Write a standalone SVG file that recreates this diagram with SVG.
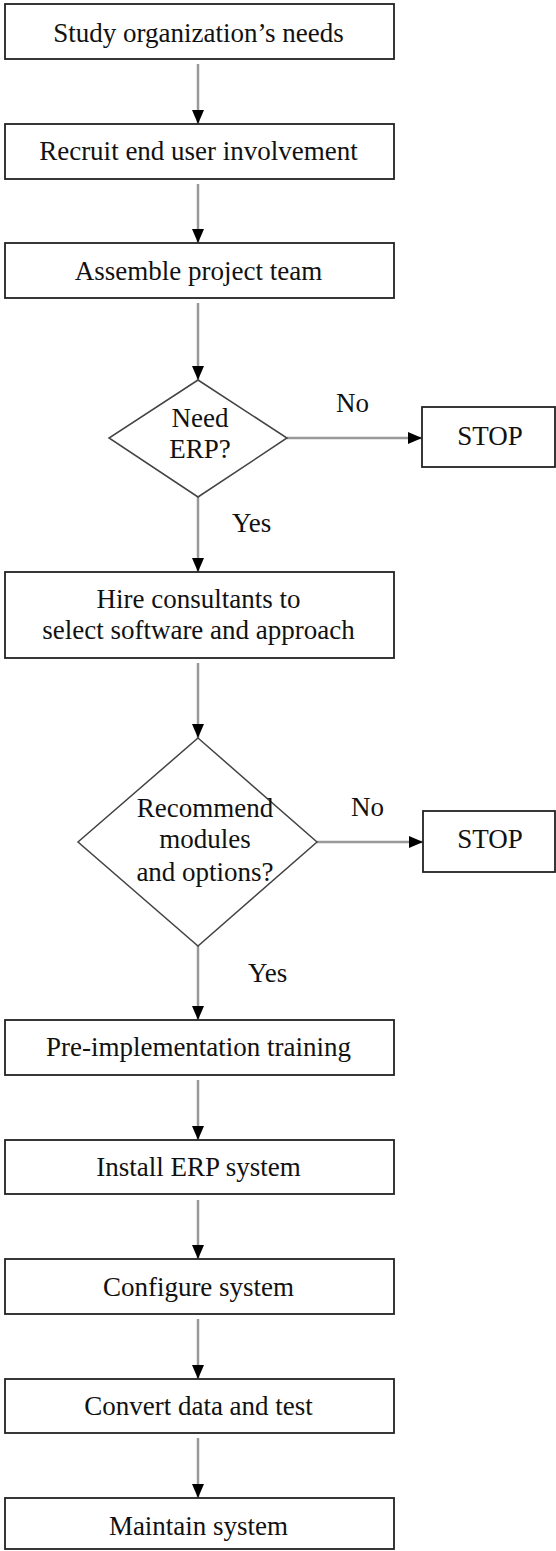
<svg xmlns="http://www.w3.org/2000/svg" width="556" height="1551" viewBox="0 0 556 1551">
<style>
  .box { fill: #fff; stroke: #222; stroke-width: 1.8; }
  .dia { fill: #fff; stroke: #444; stroke-width: 1.5; }
  text { font-family: 'Liberation Serif', 'DejaVu Serif', serif; font-size: 27px; fill: #111; }
  .t { text-anchor: middle; }
  .conn { stroke: #999; stroke-width: 2.5; fill: none; marker-end: url(#ah); }
</style>
<defs>
  <marker id="ah" viewBox="0 0 14 12" refX="14" refY="6" markerWidth="14" markerHeight="12" markerUnits="userSpaceOnUse" orient="auto">
    <path d="M0,0 L14,6 L0,12 z" fill="#000"/>
  </marker>
</defs>
<rect width="556" height="1551" fill="#fff"/>

<g id="connectors">
  <line class="conn" x1="198" y1="64" x2="198" y2="124"/>
  <line class="conn" x1="198" y1="184" x2="198" y2="243"/>
  <line class="conn" x1="198" y1="303" x2="198" y2="380"/>
  <line class="conn" x1="287" y1="438" x2="422" y2="438"/>
  <line class="conn" x1="198" y1="497" x2="198" y2="572"/>
  <line class="conn" x1="198" y1="663" x2="198" y2="738"/>
  <line class="conn" x1="317" y1="842" x2="423" y2="842"/>
  <line class="conn" x1="198" y1="946" x2="198" y2="1020"/>
  <line class="conn" x1="198" y1="1080" x2="198" y2="1140"/>
  <line class="conn" x1="198" y1="1200" x2="198" y2="1259"/>
  <line class="conn" x1="198" y1="1319" x2="198" y2="1379"/>
  <line class="conn" x1="198" y1="1438" x2="198" y2="1498"/>
  <text font-family="Liberation Serif, serif" x="336" y="412">No</text>
  <text font-family="Liberation Serif, serif" x="232" y="532">Yes</text>
  <text font-family="Liberation Serif, serif" x="351" y="816">No</text>
  <text font-family="Liberation Serif, serif" x="248" y="982">Yes</text>
</g>

<g id="n1">
  <rect class="box" x="5" y="4" width="389" height="55"/>
  <text class="t" font-family="Liberation Serif, serif" x="198.5" y="42">Study organization’s needs</text>
</g>
<g id="n2">
  <rect class="box" x="5" y="124" width="389" height="55"/>
  <text class="t" font-family="Liberation Serif, serif" x="198.5" y="160">Recruit end user involvement</text>
</g>
<g id="n3">
  <rect class="box" x="5" y="243" width="389" height="55"/>
  <text class="t" font-family="Liberation Serif, serif" x="198.5" y="280">Assemble project team</text>
</g>
<g id="d1">
  <polygon class="dia" points="198,380 287,438 198,497 109,438"/>
  <text class="t" font-family="Liberation Serif, serif" x="200" y="427">Need</text>
  <text class="t" font-family="Liberation Serif, serif" x="200" y="458">ERP?</text>
</g>
<g id="stop1">
  <rect class="box" x="422" y="407" width="133" height="60"/>
  <text class="t" font-family="Liberation Serif, serif" x="490" y="445">STOP</text>
</g>
<g id="n4">
  <rect class="box" x="5" y="572" width="389" height="86"/>
  <text class="t" font-family="Liberation Serif, serif" x="198.5" y="608">Hire consultants to</text>
  <text class="t" font-family="Liberation Serif, serif" x="198.5" y="639">select software and approach</text>
</g>
<g id="d2">
  <polygon class="dia" points="198,738 317,842 198,946 78,842"/>
  <text class="t" font-family="Liberation Serif, serif" x="205" y="817">Recommend</text>
  <text class="t" font-family="Liberation Serif, serif" x="205" y="848">modules</text>
  <text class="t" font-family="Liberation Serif, serif" x="205" y="881">and options?</text>
</g>
<g id="stop2">
  <rect class="box" x="423" y="811" width="132" height="61"/>
  <text class="t" font-family="Liberation Serif, serif" x="490" y="848">STOP</text>
</g>
<g id="n5">
  <rect class="box" x="5" y="1020" width="389" height="55"/>
  <text class="t" font-family="Liberation Serif, serif" x="198.5" y="1056">Pre-implementation training</text>
</g>
<g id="n6">
  <rect class="box" x="5" y="1140" width="389" height="54"/>
  <text class="t" font-family="Liberation Serif, serif" x="198.5" y="1176">Install ERP system</text>
</g>
<g id="n7">
  <rect class="box" x="5" y="1259" width="389" height="55"/>
  <text class="t" font-family="Liberation Serif, serif" x="198.5" y="1296">Configure system</text>
</g>
<g id="n8">
  <rect class="box" x="5" y="1379" width="389" height="54"/>
  <text class="t" font-family="Liberation Serif, serif" x="198.5" y="1415">Convert data and test</text>
</g>
<g id="n9">
  <rect class="box" x="5" y="1498" width="389" height="51"/>
  <text class="t" font-family="Liberation Serif, serif" x="198.5" y="1535">Maintain system</text>
</g>
</svg>
